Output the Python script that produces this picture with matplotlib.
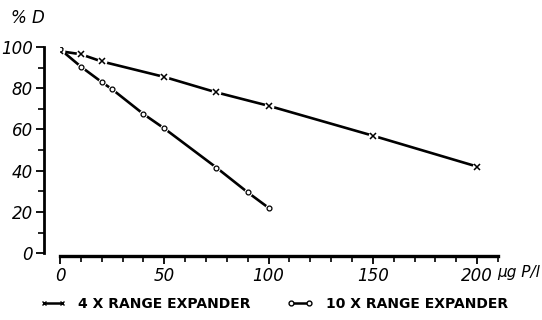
import matplotlib.pyplot as plt
from matplotlib.ticker import MultipleLocator
from matplotlib.lines import Line2D

# data
conc_4x = [0, 10, 20, 50, 75, 100, 150, 200]
pct_4x = [98, 96.5, 93, 85.5, 78, 71.5, 57, 42]

conc_10x = [0, 10, 20, 25, 40, 50, 75, 90, 100]
pct_10x = [99, 90.5, 83, 79.5, 67.5, 60.5, 41.5, 29.5, 22]

xticks = [0, 50, 100, 150, 200]
yticks = [0, 20, 40, 60, 80, 100]
labels = ['4 X RANGE EXPANDER', '10 X RANGE EXPANDER']

fig = plt.figure(figsize=(5.42, 3.2), dpi=100)
ax = fig.add_axes([0.1107, 0.209, 0.808, 0.644])

# lines first, then markers with a white patch under them to get the gaps
ax.plot(conc_4x, pct_4x, color='black', lw=1.9, solid_capstyle='butt')
ax.plot(conc_10x, pct_10x, color='black', lw=1.9, solid_capstyle='butt')
ax.plot(conc_4x, pct_4x, ls='none', marker='o', ms=7, mfc='white', mec='none')
ax.plot(conc_10x, pct_10x, ls='none', marker='o', ms=6, mfc='white', mec='none')
ax.plot(conc_4x, pct_4x, ls='none', marker='x', ms=4, mew=1.1, color='black')
ax.plot(conc_10x, pct_10x, ls='none', marker='o', ms=3.5, mew=0.9, mfc='white',
        mec='black')

ax.set_xlim(0, 210)
ax.set_ylim(0, 100)

for s in ['top', 'right']:
    ax.spines[s].set_visible(False)
ax.spines['left'].set_position(('outward', 11.5))
ax.spines['bottom'].set_position(('outward', 2))
ax.spines['left'].set_linewidth(2)
ax.spines['bottom'].set_linewidth(2.4)
ax.spines['left'].set_bounds(0, 100)
ax.spines['bottom'].set_bounds(0, 210)

ax.set_xticks(xticks)
ax.set_yticks(yticks)
ax.xaxis.set_minor_locator(MultipleLocator(10))
ax.yaxis.set_minor_locator(MultipleLocator(10))
ax.tick_params(which='major', direction='out', length=6, width=1.3, labelsize=12, pad=2)
ax.tick_params(which='minor', direction='out', length=4, width=1.2)
for lab in ax.get_xticklabels() + ax.get_yticklabels():
    lab.set_style('italic')

fig.text(0.02, 0.945, '% D', fontsize=12, style='italic', va='center')
fig.text(0.918, 0.15, 'µg P/l', fontsize=11, style='italic', va='center')

handles = [Line2D([], [], color='black', lw=1.8, marker='x', ms=3.5, mew=1),
           Line2D([], [], color='black', lw=1.8, marker='o', ms=3.5, mfc='white', mec='black')]
fig.legend(handles, labels, loc='center', bbox_to_anchor=(0.505, 0.05), ncol=2,
           frameon=False, numpoints=2, handlelength=1.9, handletextpad=0.9,
           columnspacing=2.6, prop={'size': 10, 'weight': 'bold'})

fig.savefig('out.png', dpi=100)
